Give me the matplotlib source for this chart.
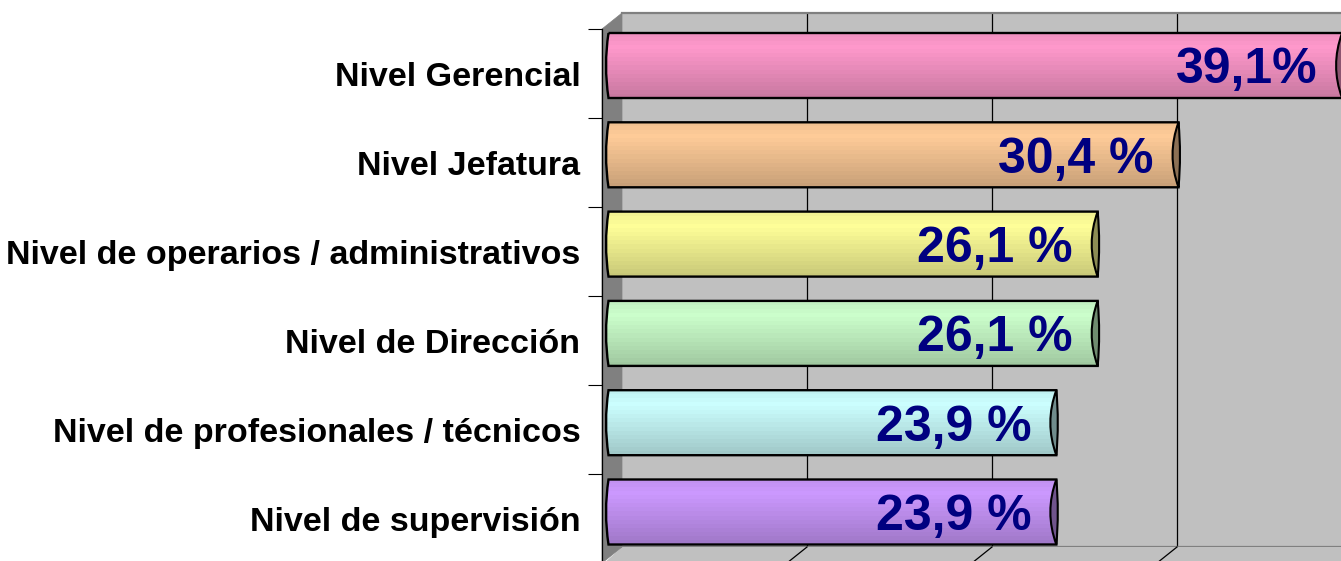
import matplotlib
matplotlib.use('Agg')
import matplotlib.pyplot as plt
import numpy as np
from matplotlib.path import Path
from matplotlib.patches import PathPatch, Polygon
from matplotlib.lines import Line2D
from matplotlib.colors import to_rgb

categories = ['Nivel Gerencial', 'Nivel Jefatura', 'Nivel de operarios / administrativos',
              'Nivel de Dirección', 'Nivel de profesionales / técnicos', 'Nivel de supervisión']
values = [39.1, 30.4, 26.1, 26.1, 23.9, 23.9]
value_labels = ['39,1%', '30,4 %', '26,1 %', '26,1 %', '23,9 %', '23,9 %']
bar_colors = ['#FF99CC', '#FFCC99', '#FFFF99', '#CCFFCC', '#CCFFFF', '#CC99FF']
grid_values = [10, 20, 30]

FONT = ['Liberation Sans', 'DejaVu Sans']
W, H = 1341, 561
DPI = 100
fig = plt.figure(figsize=(W / DPI, H / DPI), dpi=DPI)
fig.patch.set_facecolor('white')


def fr(x0, y_top, x1, y_bot):
    return [x0 / W, 1 - y_bot / H, (x1 - x0) / W, (y_bot - y_top) / H]


def fpt(x, y):
    return (x / W, 1 - y / H)


# ---- back wall with gridlines ----
BACK_PX = 18.5
ax_back = fig.add_axes(fr(622, 13, W, 547), zorder=0)
ax_back.set_facecolor('#C0C0C0')
ax_back.set_xlim(0, (W - 622) / BACK_PX)
ax_back.set_ylim(0, 1)
ax_back.set_xticks(grid_values)
ax_back.set_yticks([])
ax_back.grid(axis='x', color='black', lw=0.9)
ax_back.tick_params(length=0, labelbottom=False)
for k, s in ax_back.spines.items():
    s.set_visible(k in ('top', 'bottom'))
    s.set_color('#808080')
    s.set_linewidth(1.6)

# floor
floor = Polygon([fpt(622, 547), fpt(W, 547), fpt(W, 565), fpt(602, 565)],
                closed=True, transform=fig.transFigure, facecolor='#C0C0C0',
                edgecolor='none', zorder=0.4)
fig.add_artist(floor)
# side wall
side = Polygon([fpt(602, 29), fpt(622, 13), fpt(622, 547), fpt(602, 563)],
               closed=True, transform=fig.transFigure, facecolor='#808080',
               edgecolor='#808080', lw=0.5, zorder=0.5)
fig.add_artist(side)
# slanted floor gridlines
inv = fig.transFigure.inverted()
for g in grid_values:
    bx, by = ax_back.transData.transform((g, 0))
    p0 = inv.transform((bx, by))
    p1 = inv.transform((bx - 20, by - 16))
    fig.add_artist(Line2D([p0[0], p1[0]], [p0[1], p1[1]], transform=fig.transFigure,
                          color='black', lw=0.9, zorder=0.6))

# ---- front category axis ----
ax_front = fig.add_axes(fr(602, 29, 700, 563), zorder=1)
ax_front.patch.set_visible(False)
n = len(categories)
ax_front.set_ylim(n - 0.5, -0.5)
ax_front.set_xticks([])
ax_front.set_yticks(range(n))
ax_front.set_yticklabels(categories, fontsize=24.5, fontweight='bold', family=FONT)
ax_front.set_yticks(np.arange(-0.5, n, 1.0), minor=True)
ax_front.tick_params(axis='y', which='major', length=0, pad=15.5)
ax_front.tick_params(axis='y', which='minor', length=10, width=0.8, direction='out')
for k, s in ax_front.spines.items():
    s.set_visible(k == 'left')
ax_front.spines['left'].set_linewidth(0.9)

# ---- bars ----
PX = 18.8       # pixels per percent on the front plane
ROW = 89.3      # pixels per category
ax_bars = fig.add_axes(fr(602, 0, W, H), zorder=2)
ax_bars.set_axis_off()
ax_bars.patch.set_visible(False)
xlim = (-5 / PX, (W - 602 - 5) / PX)
ylim = ((H - 65.5) / ROW, -65.5 / ROW)

h = 65 / ROW
nb = 16
t = (np.arange(nb) + 0.5) / nb
prof = np.where(t < 0.22, 0.94 + 0.06 * t / 0.22, 1.0 - 0.22 * (t - 0.22) / 0.78)

for i, (v, c, lab) in enumerate(zip(values, bar_colors, value_labels)):
    rgb = np.array(to_rgb(c))
    top, bot = i - h / 2, i + h / 2
    x0 = 1.5 / PX
    bulge = 5 / PX
    body = Path([(x0, top), (v, top), (v, bot), (x0, bot), (x0 - bulge, i), (x0, top), (x0, top)],
                [Path.MOVETO, Path.LINETO, Path.LINETO, Path.LINETO,
                 Path.CURVE3, Path.CURVE3, Path.CLOSEPOLY])
    bp = PathPatch(body, facecolor='none', edgecolor='black', lw=1.7, zorder=3)
    ax_bars.add_patch(bp)
    img = np.clip(prof[:, None, None] * rgb[None, None, :], 0, 1)
    im = ax_bars.imshow(img, extent=(x0 - bulge, v, bot, top), origin='upper',
                        aspect='auto', interpolation='nearest', zorder=2)
    im.set_clip_path(bp)
    cap = Path([(v, top), (v + 3 / PX, i), (v, bot), (v - 12 / PX, i), (v, top), (v, top)],
               [Path.MOVETO, Path.CURVE3, Path.CURVE3, Path.CURVE3, Path.CURVE3, Path.CLOSEPOLY])
    ax_bars.add_patch(PathPatch(cap, facecolor=rgb * 0.55, edgecolor='black', lw=1.5, zorder=4))
    ax_bars.text(v - 25 / PX, i + 18 / ROW, lab, ha='right', va='baseline',
                 fontsize=36, fontweight='bold', color='#000080', family=FONT, zorder=5)

ax_bars.set_xlim(*xlim)
ax_bars.set_ylim(*ylim)

fig.savefig('out.png', dpi=DPI, facecolor='white')
